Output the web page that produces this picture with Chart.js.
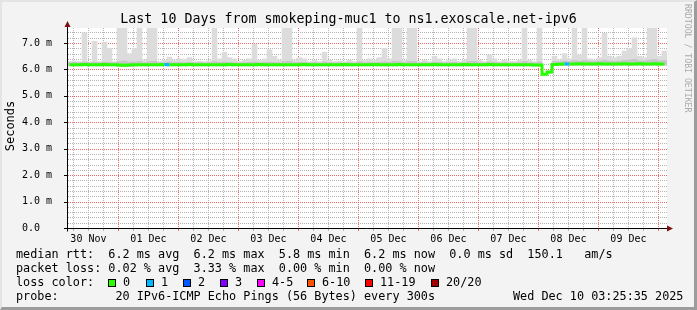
<!DOCTYPE html>
<html>
<head>
<meta charset="utf-8">
<title>Last 10 Days from smokeping-muc1 to ns1.exoscale.net-ipv6</title>
<script src="https://cdn.jsdelivr.net/npm/chart.js@4.4.1/dist/chart.umd.min.js"></script>
<style>
  html, body { margin: 0; padding: 0; background: #f3f3f3; }
  #wrap { position: relative; width: 697px; height: 310px; background: #f3f3f3; overflow: hidden;
          font-family: "DejaVu Sans Mono", monospace; color: #000; }
  #chart { position: absolute; left: 0; top: 0; }
  #frame { position: absolute; left: 0; top: 0; width: 697px; height: 310px; box-sizing: border-box;
           border-top: 2px solid #e4e4e4; border-left: 2px solid #e4e4e4;
           border-right: 3px solid #9c9c9c; border-bottom: 3px solid #9c9c9c; pointer-events: none; }
  .title { position: absolute; left: 0; top: 10px; width: 697px; text-align: center; font-size: 13.3px; line-height: 18px; }
  .ylab { position: absolute; left: -20px; top: 119px; width: 60px; text-align: center; font-size: 12px;
          line-height: 14px; transform: rotate(-90deg); }
  .rrd { position: absolute; left: 683px; top: 4px; writing-mode: vertical-rl; font-size: 8.2px; color: #ababab; }
  .leg { position: absolute; left: 16px; font-size: 11.8px; line-height: 14px; white-space: pre; }
  #lossLegend { left: 0; width: 697px; height: 14px; white-space: nowrap; }
  #lossLegend span { position: absolute; top: 0; }
  #lossLegend .box { top: 4px; width: 6px; height: 6px; border: 1px solid #000; }
</style>
</head>
<body>
<div id="wrap">
  <canvas id="chart" width="697" height="310"></canvas>
  <div class="title">Last 10 Days from smokeping-muc1 to ns1.exoscale.net-ipv6</div>
  <div class="ylab">Seconds</div>
  <div class="rrd">RRDTOOL / TOBI OETIKER</div>
  <div class="leg" style="top:247px">median rtt:  6.2 ms avg  6.2 ms max  5.8 ms min  6.2 ms now  0.0 ms sd  150.1   am/s</div>
  <div class="leg" style="top:261px">packet loss: 0.02 % avg  3.33 % max  0.00 % min  0.00 % now</div>
  <div class="leg" id="lossLegend" style="top:275px"><span style="left:16px">loss color:</span></div>
  <div class="leg" style="top:289px">probe:        20 IPv6-ICMP Echo Pings (56 Bytes) every 300s</div>
  <div class="leg" style="top:289px; left:513px">Wed Dec 10 03:25:35 2025</div>
  <div id="frame"></div>
</div>
<script>
// 10 days from Nov 30 03:25:35, binned in 2 hour steps
const startClock = 3 + 25 / 60 + 35 / 3600;
const spanHours = 240;
const binHours = 2;
const dayLabels = ['30 Nov', '01 Dec', '02 Dec', '03 Dec', '04 Dec', '05 Dec', '06 Dec', '07 Dec', '08 Dec', '09 Dec'];
const yLabels = ['0.0  ', '1.0 m', '2.0 m', '3.0 m', '4.0 m', '5.0 m', '6.0 m', '7.0 m'];
const yMax = 7.57;
const yMinorStep = 0.2;

const lossLabels = ['0', '1', '2', '3', '4-5', '6-10', '11-19', '20/20'];
const lossColors = ['#26ff00', '#00b8ff', '#0059ff', '#7e00ff', '#ff00ff', '#ff5500', '#ff0000', '#a10000'];
const lossBoxLeft = [108, 146, 183, 220, 257, 307, 365, 431];   // legend layout, px

// median rtt (ms)
const median = [
  6.18, 6.18, 6.18, 6.19, 6.18, 6.18, 6.18, 6.19, 6.18, 6.18,
  6.17, 6.16, 6.17, 6.18, 6.18, 6.18, 6.18, 6.18, 6.18, 6.19,
  6.18, 6.18, 6.18, 6.18, 6.19, 6.18, 6.18, 6.18, 6.18, 6.18,
  6.18, 6.18, 6.19, 6.18, 6.18, 6.18, 6.18, 6.18, 6.19, 6.18,
  6.18, 6.18, 6.18, 6.18, 6.18, 6.18, 6.18, 6.19, 6.18, 6.18,
  6.18, 6.18, 6.18, 6.18, 6.18, 6.19, 6.18, 6.18, 6.18, 6.18,
  6.18, 6.19, 6.18, 6.18, 6.18, 6.18, 6.19, 6.18, 6.18, 6.18,
  6.18, 6.18, 6.18, 6.19, 6.18, 6.18, 6.18, 6.18, 6.18, 6.19,
  6.18, 6.18, 6.18, 6.18, 6.19, 6.18, 6.18, 6.18, 6.18, 6.18,
  6.18, 6.18, 6.18, 6.17, 6.17, 5.82, 5.90, 6.19, 6.20, 6.21,
  6.21, 6.21, 6.22, 6.21, 6.21, 6.21, 6.22, 6.21, 6.21, 6.21,
  6.21, 6.22, 6.21, 6.21, 6.22, 6.21, 6.21, 6.22, 6.21, 6.21
];

// lost pings per bin (index into lossColors)
const loss = [
  0, 0, 0, 0, 0, 0, 0, 0, 0, 0,
  0, 0, 0, 0, 0, 0, 0, 0, 0, 0,
  1, 0, 0, 0, 0, 0, 0, 0, 0, 0,
  0, 0, 0, 0, 0, 0, 0, 0, 0, 0,
  0, 0, 0, 0, 0, 0, 0, 0, 0, 0,
  0, 0, 0, 0, 0, 0, 0, 0, 0, 0,
  0, 0, 0, 0, 0, 0, 0, 0, 0, 0,
  0, 0, 0, 0, 0, 0, 0, 0, 0, 0,
  0, 0, 0, 0, 0, 0, 0, 0, 0, 0,
  0, 0, 0, 0, 0, 0, 0, 0, 0, 0,
  1, 0, 0, 0, 0, 0, 0, 0, 0, 0,
  0, 0, 0, 0, 0, 0, 0, 0, 0, 0
];

// smoke: lowest ping, upper edge of the dense band, highest ping
const smokeLow = [
  6.14, 6.14, 6.14, 6.14, 6.14, 6.14, 6.14, 6.14, 6.14, 6.14,
  6.12, 6.11, 6.12, 6.13, 6.14, 6.14, 6.14, 6.14, 6.14, 6.14,
  6.14, 6.14, 6.14, 6.14, 6.14, 6.14, 6.14, 6.14, 6.14, 6.14,
  6.14, 6.14, 6.14, 6.14, 6.14, 6.14, 6.14, 6.14, 6.14, 6.14,
  6.14, 6.14, 6.14, 6.14, 6.14, 6.14, 6.14, 6.14, 6.14, 6.14,
  6.14, 6.14, 6.14, 6.14, 6.14, 6.14, 6.14, 6.14, 6.14, 6.14,
  6.14, 6.14, 6.14, 6.14, 6.14, 6.14, 6.14, 6.14, 6.14, 6.14,
  6.14, 6.14, 6.14, 6.14, 6.14, 6.14, 6.14, 6.14, 6.14, 6.14,
  6.14, 6.14, 6.14, 6.14, 6.14, 6.14, 6.14, 6.14, 6.14, 6.14,
  6.14, 6.14, 6.14, 6.14, 6.14, 5.80, 5.86, 6.15, 6.16, 6.16,
  6.16, 6.16, 6.16, 6.16, 6.16, 6.16, 6.16, 6.16, 6.16, 6.16,
  6.16, 6.16, 6.16, 6.16, 6.16, 6.16, 6.16, 6.16, 6.16, 6.16
];
const smokeMid = [
  6.26, 6.27, 6.26, 6.28, 6.26, 6.27, 6.26, 6.28, 6.27, 6.26,
  6.30, 6.32, 6.28, 6.29, 6.30, 6.26, 6.30, 6.31, 6.26, 6.26,
  6.28, 6.26, 6.27, 6.26, 6.27, 6.26, 6.26, 6.25, 6.26, 6.30,
  6.27, 6.28, 6.27, 6.26, 6.25, 6.26, 6.27, 6.29, 6.26, 6.27,
  6.28, 6.27, 6.26, 6.30, 6.31, 6.26, 6.27, 6.27, 6.25, 6.26,
  6.25, 6.28, 6.26, 6.25, 6.26, 6.25, 6.26, 6.25, 6.30, 6.26,
  6.27, 6.26, 6.27, 6.29, 6.27, 6.31, 6.30, 6.26, 6.31, 6.30,
  6.25, 6.26, 6.25, 6.28, 6.27, 6.25, 6.26, 6.27, 6.25, 6.26,
  6.30, 6.31, 6.26, 6.25, 6.28, 6.27, 6.25, 6.26, 6.25, 6.25,
  6.26, 6.30, 6.26, 6.25, 6.29, 5.84, 5.92, 6.30, 6.29, 6.32,
  6.30, 6.34, 6.31, 6.34, 6.31, 6.30, 6.32, 6.35, 6.32, 6.31,
  6.32, 6.35, 6.36, 6.38, 6.33, 6.32, 6.36, 6.38, 6.33, 6.34
];
const smokeMax = [
  6.30, 6.32, 6.30, 7.39, 6.30, 7.07, 6.30, 7.04, 6.80, 6.30,
  7.57, 7.57, 6.60, 6.80, 7.57, 6.35, 7.57, 7.57, 6.30, 6.35,
  6.47, 6.35, 6.40, 6.38, 6.45, 6.30, 6.32, 6.30, 6.33, 7.57,
  6.40, 6.65, 6.45, 6.40, 6.30, 6.35, 6.40, 6.95, 6.35, 6.40,
  6.75, 6.50, 6.35, 7.57, 7.57, 6.35, 6.45, 6.40, 6.30, 6.35,
  6.30, 6.65, 6.35, 6.30, 6.32, 6.30, 6.35, 6.30, 7.57, 6.35,
  6.40, 6.35, 6.45, 6.80, 6.40, 7.57, 7.57, 6.35, 7.57, 7.57,
  6.30, 6.35, 6.30, 6.50, 6.40, 6.30, 6.35, 6.40, 6.30, 6.35,
  7.57, 7.57, 6.35, 6.30, 6.55, 6.40, 6.30, 6.35, 6.30, 6.30,
  6.35, 7.57, 6.35, 6.30, 7.57, 5.86, 5.95, 6.50, 6.35, 6.60,
  6.40, 7.57, 6.55, 7.57, 6.40, 6.35, 6.45, 7.37, 6.50, 6.45,
  6.50, 6.70, 6.80, 7.20, 6.50, 6.45, 7.57, 7.57, 6.50, 6.70
];

// loss colour legend
const lossLegend = document.getElementById('lossLegend');
lossLabels.forEach((lab, i) => {
    const x = lossBoxLeft[i];
    lossLegend.insertAdjacentHTML('beforeend',
        `<span class="box" style="left:${x}px; background:${lossColors[i]}"></span>` +
        `<span style="left:${x + 15}px">${lab}</span>`);
});

const xs = median.map((_, i) => i * binHours + binHours / 2);
const clockOf = h => ((h + startClock) % 24 + 24) % 24;
const isMidnight = h => clockOf(h) < 1e-6 || clockOf(h) > 24 - 1e-6;
const isWhole = v => Math.abs(v - Math.round(v)) < 1e-6;

const MAJOR = '#e86a6a';
const MINOR = '#b4b4b4';

const chartBg = {
    id: 'chartBg',
    beforeDraw(chart) {
        const { ctx, chartArea: a } = chart;
        ctx.save();
        ctx.fillStyle = '#ffffff';
        ctx.fillRect(a.left, a.top, a.right - a.left, a.bottom - a.top);
        ctx.restore();
    },
    beforeDatasetsDraw(chart) {
        // horizontal dotted grid, dot by dot, placed by the y scale
        const { ctx, chartArea: a, scales: { y } } = chart;
        const left = Math.round(a.left) + 1, right = Math.round(a.right);
        ctx.save();
        for (let k = 1; k * yMinorStep <= yMax; k++) {
            const v = k * yMinorStep;
            const py = Math.round(y.getPixelForValue(v));
            ctx.fillStyle = isWhole(v) ? MAJOR : MINOR;
            for (let px = left; px < right; px += 2) ctx.fillRect(px, py, 1, 1);
        }
        ctx.fillStyle = '#000';
        for (let v = 0; v <= yMax; v++) {
            ctx.fillRect(Math.round(a.left) - 3, Math.round(y.getPixelForValue(v)), 3, 1);
        }
        ctx.restore();
    },
    afterDraw(chart) {
        // rrdtool style axes with arrow heads
        const { ctx, chartArea: a } = chart;
        const x0 = Math.round(a.left) + 0.5, y0 = Math.round(a.bottom) + 0.5;
        ctx.save();
        ctx.strokeStyle = '#000';
        ctx.lineWidth = 1;
        ctx.beginPath();
        ctx.moveTo(x0, y0 + 3); ctx.lineTo(x0, a.top - 2);
        ctx.moveTo(x0 - 3, y0); ctx.lineTo(a.right + 1, y0);
        ctx.stroke();
        ctx.fillStyle = '#7f1010';
        ctx.beginPath();
        ctx.moveTo(x0 - 3, a.top - 1); ctx.lineTo(x0 + 3, a.top - 1); ctx.lineTo(x0, a.top - 7); ctx.closePath();
        ctx.fill();
        ctx.beginPath();
        ctx.moveTo(a.right, y0 - 3); ctx.lineTo(a.right, y0 + 3); ctx.lineTo(a.right + 6, y0); ctx.closePath();
        ctx.fill();
        ctx.restore();
    }
};

new Chart(document.getElementById('chart'), {
    type: 'bar',
    data: {
        datasets: [
            {
                type: 'line',
                label: 'median rtt',
                data: xs.map((x, i) => ({ x: x, y: median[i] })),
                borderColor: lossColors[0],
                borderWidth: 3,
                pointRadius: 0,
                stepped: 'middle',
                segment: { borderColor: c => lossColors[loss[c.p1DataIndex]] },
                order: 0
            },
            {
                label: 'smoke dense',
                data: xs.map((x, i) => ({ x: x, y: [smokeLow[i], smokeMid[i]] })),
                backgroundColor: '#c6c6c6',
                barPercentage: 1,
                categoryPercentage: 1,
                grouped: false,
                order: 1
            },
            {
                label: 'smoke',
                data: xs.map((x, i) => ({ x: x, y: [smokeLow[i], smokeMax[i]] })),
                backgroundColor: '#dcdcdc',
                barPercentage: 1,
                categoryPercentage: 1,
                grouped: false,
                order: 2
            }
        ]
    },
    options: {
        responsive: false,
        animation: false,
        devicePixelRatio: 1,
        layout: { padding: { left: 0, top: 28, right: 30, bottom: 62 } },
        plugins: { legend: { display: false }, tooltip: { enabled: false }, title: { display: false } },
        scales: {
            x: {
                type: 'linear',
                min: 0,
                max: spanHours,
                offset: false,
                afterBuildTicks: scale => {
                    const ticks = [];
                    for (let h = 6 - startClock; h < spanHours; h += 6) ticks.push({ value: h });
                    scale.ticks = ticks;
                },
                afterFit: scale => { scale.height = 20; },
                ticks: {
                    autoSkip: false,
                    maxRotation: 0,
                    padding: 2,
                    color: '#000',
                    font: { family: 'DejaVu Sans Mono', size: 10 },
                    callback: value => {
                        if (Math.abs(clockOf(value) - 12) > 1e-6) return '';
                        return dayLabels[Math.floor((value + startClock) / 24)];
                    }
                },
                grid: {
                    offset: false,
                    color: c => (c.tick && isMidnight(c.tick.value)) ? MAJOR : MINOR,
                    tickColor: c => (c.tick && isMidnight(c.tick.value)) ? MAJOR : MINOR,
                    tickLength: 3,
                    lineWidth: 1
                },
                border: { display: false, dash: [1, 1] }
            },
            y: {
                min: 0,
                max: yMax,
                afterBuildTicks: scale => {
                    const ticks = [];
                    for (let v = 0; v <= yMax; v++) ticks.push({ value: v });
                    scale.ticks = ticks;
                },
                afterFit: scale => { scale.width = 67; },
                ticks: {
                    autoSkip: false,
                    padding: 7,
                    color: '#000',
                    font: { family: 'DejaVu Sans Mono', size: 10 },
                    callback: value => yLabels[Math.round(value)]
                },
                grid: { display: false },
                border: { display: false }
            }
        }
    },
    plugins: [chartBg]
});
</script>
</body>
</html>
